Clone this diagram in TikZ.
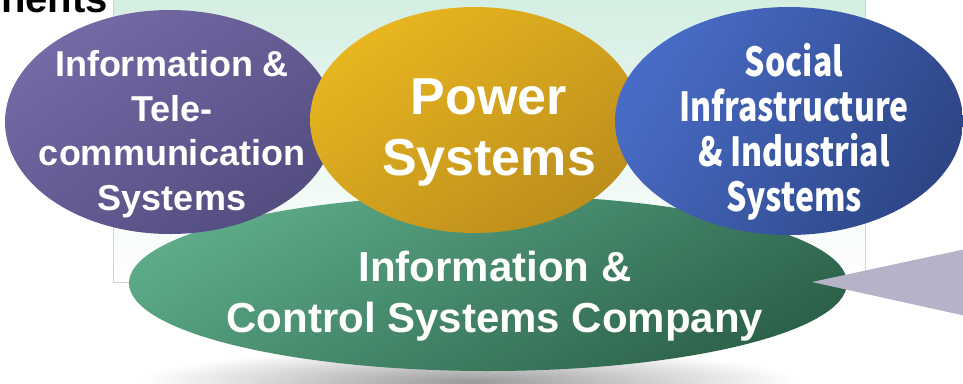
\documentclass[tikz,border=0pt]{standalone}
\usepackage{fontspec}
\setmainfont{Liberation Sans}
\newfontfamily\jpfont[FakeStretch=0.8]{Noto Sans CJK JP}
\usetikzlibrary{shapes.geometric}
\definecolor{mint}{RGB}{212,238,226}
\definecolor{purpleA}{RGB}{116,106,166}
\definecolor{purpleB}{RGB}{84,77,128}
\definecolor{goldA}{RGB}{232,182,32}
\definecolor{goldB}{RGB}{188,142,28}
\definecolor{blueA}{RGB}{72,108,198}
\definecolor{blueB}{RGB}{46,70,135}
\definecolor{greenA}{RGB}{92,170,136}
\definecolor{greenB}{RGB}{44,98,74}
\definecolor{callout}{RGB}{182,178,200}
\begin{document}
\begin{tikzpicture}[x=1pt,y=-1pt,
  blob/.style={ellipse, inner sep=0pt, draw=none},
  lbl/.style={text=white, align=center, inner sep=0pt}]
\useasboundingbox (0,0) rectangle (963,383);
% background panel
\shade[top color=mint, bottom color=white, draw=gray!35, line width=0.8pt] (113,-5) rectangle (865,282);
% heading fragment
\node[anchor=base east, inner sep=0pt, font=\bfseries\fontsize{40}{48}\selectfont] (head) at (108,12) {nents};
% shadow under the company ellipse
\shade[inner color=gray!80, outer color=white] (470,382) ellipse [x radius=330, y radius=34];
% company ellipse
\node[blob, minimum width=718pt, minimum height=176pt, top color=greenA, bottom color=greenB, shading angle=30] (icsc) at (488,283) {};
% callout wedge
\coordinate (tip) at (812,282);
\fill[callout] (tip) -- (975,247) -- (975,318) -- cycle;
% three business ellipses
\node[blob, minimum width=330pt, minimum height=224pt, top color=purpleA, bottom color=purpleB, shading angle=35] (tele) at (170,122) {};
\node[blob, minimum width=330pt, minimum height=226pt, top color=goldA, bottom color=goldB, shading angle=35] (power) at (475,120) {};
\node[blob, minimum width=348pt, minimum height=228pt, top color=blueA, bottom color=blueB, shading angle=60] (social) at (789,121) {};
% labels
\node[lbl, font=\bfseries\fontsize{36}{44.5}\selectfont] (teleT) at (172,134) {Information \&\\Tele-\\communication\\Systems};
\node[lbl, font=\bfseries\fontsize{52}{61}\selectfont] (powerT) at (489,133) {Power\\Systems};
\node[lbl, font=\jpfont\bfseries\fontsize{40}{45}\selectfont] (socialT) at (794,132) {Social\\Infrastructure\\\& Industrial\\Systems};
\node[lbl, font=\bfseries\fontsize{42}{51}\selectfont] (icscT) at (495,296) {Information \&\\Control Systems Company};
\end{tikzpicture}
\end{document}
